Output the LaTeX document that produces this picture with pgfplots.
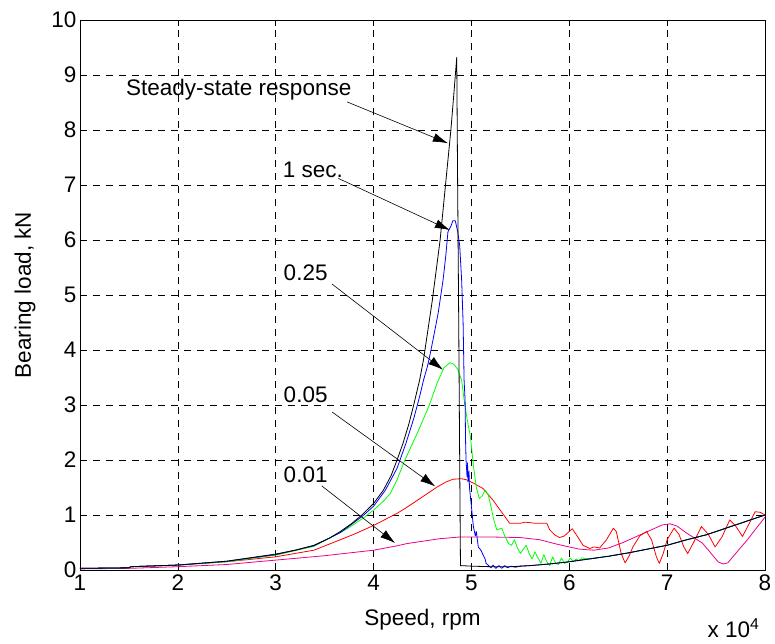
\documentclass[border=0pt]{standalone}
\usepackage{fontspec}
\setmainfont{Liberation Sans}
\usepackage{pgfplots}
\pgfplotsset{compat=1.18}
\usetikzlibrary{arrows.meta}
\begin{document}
\begin{tikzpicture}[font=\fontsize{22.5}{26}\selectfont]
\begin{axis}[name=ax, scale only axis, width=685pt, height=550pt,
  xmin=1, xmax=8, ymin=0, ymax=10,
  xtick={1,...,8}, ytick={0,...,10},
  tick align=inside, major tick length=6pt,
  grid=major, grid style={black, line width=0.6pt, dash pattern=on 7pt off 6pt},
  axis line style={line width=0.8pt},
  every tick/.style={black, line width=0.6pt},
  /pgf/number format/assume math mode=true,
  xticklabel style={yshift=-1pt},
  xlabel={Speed, rpm}, ylabel={Bearing load, kN},
  every axis x label/.style={at={(axis description cs:0.5,-0.1)}, anchor=base},
  every axis y label/.style={at={(axis description cs:-0.0803,0.5)}, rotate=90, anchor=center},
  line join=round]
% 0.01
\addplot[magenta, line width=0.8pt] coordinates {
(1.0,0.02)(1.5,0.03)(2.0,0.06)(2.5,0.1)(3.0,0.18)(3.5,0.26)(4.0,0.36)(4.24,0.44)(4.34,0.48)(4.68,0.57)(4.88,0.6)(5.2,0.6)(5.5,0.59)(5.7,0.55)(5.85,0.48)(5.97,0.43)(6.1,0.38)(6.25,0.36)(6.4,0.4)(6.55,0.5)(6.65,0.58)(6.8,0.7)(6.95,0.82)(7.03,0.84)(7.1,0.8)(7.2,0.67)(7.36,0.49)(7.45,0.3)(7.52,0.15)(7.57,0.11)(7.62,0.13)(7.7,0.3)(7.82,0.55)(7.92,0.78)(8.0,0.96)};
% 0.05
\addplot[red, line width=0.8pt] coordinates {
(1.0,0.03)(1.5,0.04)(1.52,0.06)(2.0,0.09)(2.5,0.15)(3.0,0.24)(3.39,0.36)(3.66,0.55)(3.8,0.65)(4.0,0.81)(4.12,0.92)(4.24,1.03)(4.34,1.14)(4.45,1.27)(4.55,1.39)(4.65,1.51)(4.74,1.6)(4.81,1.65)(4.9,1.66)(4.95,1.64)(5.02,1.58)(5.12,1.48)(5.22,1.27)(5.33,1.0)(5.39,0.85)(5.5,0.85)(5.55,0.87)(5.65,0.85)(5.77,0.85)(5.80,0.73)(5.85,0.64)(5.90,0.59)(5.95,0.62)(6.03,0.75)(6.08,0.62)(6.14,0.45)(6.21,0.39)(6.25,0.42)(6.31,0.4)(6.38,0.55)(6.45,0.76)(6.48,0.7)(6.53,0.3)(6.57,0.13)(6.61,0.25)(6.65,0.42)(6.72,0.62)(6.79,0.70)(6.84,0.55)(6.89,0.24)(6.92,0.12)(6.96,0.3)(7.0,0.55)(7.07,0.76)(7.12,0.65)(7.17,0.42)(7.21,0.3)(7.27,0.5)(7.35,0.79)(7.42,0.65)(7.49,0.42)(7.56,0.6)(7.64,0.91)(7.70,0.8)(7.77,0.61)(7.84,0.85)(7.90,1.06)(7.95,1.05)(8.0,1.0)};
% 0.25
\addplot[green, line width=0.8pt] coordinates {
(1.0,0.03)(1.5,0.04)(1.52,0.06)(2.0,0.09)(2.5,0.15)(3.0,0.27)(3.39,0.43)(3.73,0.75)(3.9,0.95)(4.0,1.09)(4.1,1.25)(4.17,1.39)(4.24,1.64)(4.32,2.0)(4.45,2.5)(4.57,3.0)(4.65,3.4)(4.72,3.68)(4.78,3.77)(4.82,3.74)(4.86,3.65)(4.90,3.45)(4.93,3.03)(4.96,2.7)(4.99,2.42)(5.02,1.9)(5.05,1.5)(5.08,1.3)(5.11,1.35)(5.14,1.45)(5.17,1.38)(5.20,1.15)(5.23,0.9)(5.26,0.73)(5.31,0.76)(5.34,0.62)(5.38,0.48)(5.41,0.45)(5.44,0.55)(5.47,0.40)(5.50,0.3)(5.53,0.38)(5.56,0.45)(5.59,0.3)(5.62,0.2)(5.65,0.33)(5.68,0.22)(5.71,0.12)(5.74,0.28)(5.77,0.15)(5.80,0.08)(5.83,0.24)(5.86,0.12)(5.89,0.1)(5.92,0.22)(5.95,0.12)(5.98,0.14)(6.01,0.22)(6.04,0.15)(6.07,0.2)(6.1,0.17)(6.13,0.22)(6.2,0.2)(6.4,0.25)(6.6,0.31)(6.8,0.38)(7.0,0.45)(7.2,0.55)(7.4,0.64)(7.6,0.76)(7.8,0.88)(8.0,1.0)};
% 1 sec.
\addplot[blue, line width=0.8pt] coordinates {
(1.0,0.03)(1.5,0.04)(1.52,0.06)(2.0,0.09)(2.5,0.16)(3.0,0.28)(3.39,0.44)(3.66,0.68)(3.88,0.97)(4.0,1.16)(4.12,1.45)(4.24,1.85)(4.33,2.3)(4.41,2.75)(4.47,3.15)(4.51,3.45)(4.55,3.7)(4.58,3.94)(4.62,4.3)(4.66,4.67)(4.71,5.27)(4.74,5.75)(4.76,6.15)(4.79,6.25)(4.81,6.35)(4.835,6.35)(4.86,6.15)(4.88,5.9)(4.90,5.27)(4.915,4.49)(4.925,3.45)(4.935,3.1)(4.94,2.36)(4.945,2.0)(4.955,1.7)(4.96,1.95)(4.965,1.6)(4.975,1.8)(4.98,1.5)(5.0,1.15)(5.02,0.79)(5.04,0.62)(5.05,0.7)(5.07,0.42)(5.1,0.35)(5.12,0.27)(5.14,0.2)(5.15,0.12)(5.17,0.09)(5.2,0.04)(5.22,0.09)(5.25,0.03)(5.28,0.08)(5.31,0.03)(5.34,0.08)(5.37,0.04)(5.4,0.07)(5.45,0.05)(5.5,0.07)(5.6,0.08)(5.8,0.11)(6.0,0.15)(6.2,0.2)(6.4,0.25)(6.6,0.31)(6.8,0.38)(7.0,0.45)(7.2,0.55)(7.4,0.64)(7.6,0.76)(7.8,0.88)(8.0,1.0)};
% steady state
\addplot[black, line width=0.8pt] coordinates {
(1.0,0.03)(1.5,0.04)(1.52,0.06)(2.0,0.09)(2.5,0.16)(3.0,0.29)(3.2,0.36)(3.39,0.45)(3.55,0.58)(3.66,0.70)(3.78,0.85)(3.88,1.0)(4.0,1.21)(4.1,1.45)(4.18,1.72)(4.24,2.0)(4.3,2.3)(4.36,2.65)(4.41,3.0)(4.47,3.45)(4.51,3.82)(4.55,4.3)(4.6,4.9)(4.64,5.45)(4.68,6.0)(4.735,7.0)(4.79,8.0)(4.82,8.65)(4.85,9.32)(4.857,7.5)(4.87,4.55)(4.88,2.0)(4.888,0.08)(5.0,0.07)(5.2,0.06)(5.4,0.06)(5.6,0.08)(5.8,0.11)(6.0,0.15)(6.2,0.2)(6.4,0.25)(6.6,0.31)(6.8,0.38)(7.0,0.45)(7.2,0.55)(7.4,0.64)(7.6,0.76)(7.8,0.88)(8.0,1.0)};
% annotations
\node[anchor=base west, inner sep=0] at (axis cs:1.47,8.62) {Steady-state response};
\node[anchor=base west, inner sep=0] at (axis cs:3.07,7.13) {1 sec.};
\node[anchor=base west, inner sep=0] at (axis cs:3.08,5.27) {0.25};
\node[anchor=base west, inner sep=0] at (axis cs:3.08,3.05) {0.05};
\node[anchor=base west, inner sep=0] at (axis cs:3.08,1.6) {0.01};
\draw[-{Latex[length=15pt,width=9pt]}, line width=0.6pt] (axis cs:3.73,8.51) -- (axis cs:4.76,7.76);
\draw[-{Latex[length=15pt,width=9pt]}, line width=0.6pt] (axis cs:3.64,7.12) -- (axis cs:4.78,6.18);
\draw[-{Latex[length=15pt,width=9pt]}, line width=0.6pt] (axis cs:3.575,5.20) -- (axis cs:4.71,3.64);
\draw[-{Latex[length=15pt,width=9pt]}, line width=0.6pt] (axis cs:3.578,2.87) -- (axis cs:4.63,1.52);
\draw[-{Latex[length=15pt,width=9pt]}, line width=0.6pt] (axis cs:3.47,1.53) -- (axis cs:4.22,0.49);
\end{axis}
\node[anchor=base east] at ([xshift=-2pt,yshift=-67pt]ax.south east) {x 10\textsuperscript{4}};
\pgfresetboundingbox
\path[use as bounding box] ([xshift=-80pt,yshift=-73pt]ax.south west) rectangle ([xshift=10pt,yshift=20pt]ax.north east);
\end{tikzpicture}
\end{document}
